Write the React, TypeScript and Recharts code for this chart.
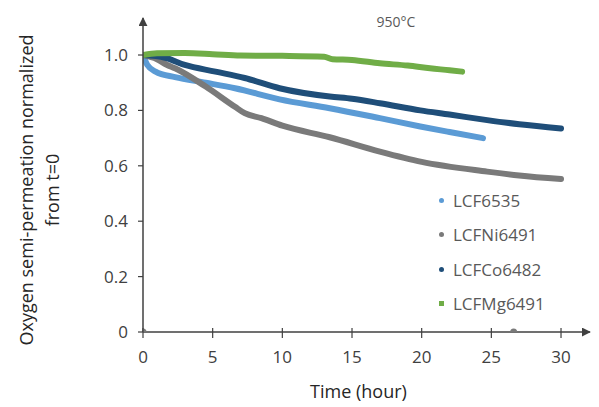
import React from 'react';
import { ComposedChart, Line, Scatter, XAxis, YAxis, Legend, Label } from 'recharts';

// ---- data ----
const seriesNames = ['LCF6535', 'LCFNi6491', 'LCFCo6482', 'LCFMg6491'];

const lcf6535Time = [0, 0.3, 0.9, 2.3, 4.5, 6.6, 9.8, 13.4, 17.0, 19.9, 22.0, 24.4];
const lcf6535Value = [1.0, 0.965, 0.94, 0.92, 0.9, 0.88, 0.84, 0.808, 0.772, 0.742, 0.722, 0.7];

const lcfNiTime = [0, 1.0, 1.7, 2.3, 4.5, 6.6, 7.3, 8.5, 10.0, 13.4, 17.0, 20.0, 24.7, 27.0, 30.0];
const lcfNiValue = [1.0, 0.985, 0.965, 0.952, 0.886, 0.813, 0.79, 0.772, 0.745, 0.703, 0.651, 0.614, 0.579, 0.565, 0.552];

const lcfCoTime = [0, 1.6, 3.0, 5.2, 7.3, 9.8, 13.4, 15.0, 17.0, 19.9, 22.0, 24.7, 27.0, 30.0];
const lcfCoValue = [1.0, 0.99, 0.964, 0.94, 0.917, 0.88, 0.85, 0.842, 0.826, 0.8, 0.785, 0.765, 0.75, 0.735];

const lcfMgTime = [0, 1.0, 3.0, 5.0, 7.0, 10.0, 13.0, 13.6, 15.0, 17.0, 19.0, 20.6, 22.0, 22.9];
const lcfMgValue = [1.0, 1.006, 1.007, 1.003, 0.998, 0.997, 0.994, 0.985, 0.982, 0.97, 0.962, 0.952, 0.945, 0.94];

const strayTime = [0, 26.6];
const strayValue = [0, 0];

const xTicks = [0, 5, 10, 15, 20, 25, 30];
const yTicks = [0, 0.2, 0.4, 0.6, 0.8, 1.0];

const chartTitle = '950°C';
const xTitle = 'Time (hour)';
const yTitleLines = ['Oxygen semi-permeation normalized', 'from t=0'];

// ---- styling ----
const colors = ['#5B9BD5', '#7A7A7A', '#1F4E79', '#70AD47'];
const FONT = "'Open Sans', sans-serif";
const AXIS = '#404040';

const toPoints = (t: number[], v: number[]) => t.map((x, i) => ({ t: x, v: v[i] }));
const seriesData = [
  toPoints(lcf6535Time, lcf6535Value),
  toPoints(lcfNiTime, lcfNiValue),
  toPoints(lcfCoTime, lcfCoValue),
  toPoints(lcfMgTime, lcfMgValue),
];
const strayData = toPoints(strayTime, strayValue);

const XTick = (props: any) => {
  const { x, y, payload } = props;
  const axisY = y - 19;
  return (
    <g>
      <line x1={x} x2={x} y1={axisY - 4} y2={axisY} stroke={AXIS} strokeWidth={1.2} />
      <text x={x} y={y} dy="0.71em" textAnchor="middle" fill={AXIS} fontSize={17} fontFamily={FONT}>
        {payload.value}
      </text>
    </g>
  );
};

const YTitle = () => (
  <g>
    {yTitleLines.map((line, i) => {
      const cx = i === 0 ? 26 : 52;
      return (
        <text
          key={line}
          x={cx}
          y={190}
          transform={`rotate(-90, ${cx}, 190)`}
          textAnchor="middle"
          dominantBaseline="central"
          fontSize={18}
          fontFamily={FONT}
          fill="#262626"
        >
          {line}
        </text>
      );
    })}
    <text x={396} y={27} textAnchor="middle" fontSize={14} fontFamily={FONT} fill="#595959">
      {chartTitle}
    </text>
  </g>
);

const LegendContent = () => (
  <div style={{ position: 'relative', width: 160, height: 140, fontFamily: FONT, fontSize: 17, color: '#595959' }}>
    {seriesNames.map((n, i) => (
      <div
        key={n}
        style={{ position: 'absolute', left: 0, top: i * 34.5, height: 34.5, display: 'flex', alignItems: 'center', whiteSpace: 'nowrap' }}
      >
        <span
          style={{
            display: 'inline-block',
            width: 5,
            height: 5,
            borderRadius: i === 3 ? 0 : '50%',
            background: colors[i],
            marginRight: 9,
          }}
        />
        <span>{n}</span>
      </div>
    ))}
  </div>
);

export default function App() {
  return (
    <div style={{ position: 'absolute', left: 0, top: 0, background: '#fff' }}>
      <svg width={0} height={0} style={{ position: 'absolute' }}>
        <defs>
          <marker
            id="axisArrow"
            viewBox="0 0 10 10"
            refX={9}
            refY={5}
            markerWidth={9}
            markerHeight={9}
            markerUnits="userSpaceOnUse"
            orient="auto-start-reverse"
          >
            <path d="M0,0 L10,5 L0,10 z" fill={AXIS} />
          </marker>
        </defs>
      </svg>
      <ComposedChart width={599} height={407} margin={{ top: 18, right: 9, bottom: 0, left: 0 }}>
        <XAxis
          type="number"
          dataKey="t"
          domain={[0, 32.08]}
          ticks={xTicks}
          allowDataOverflow
          height={75}
          axisLine={{ stroke: AXIS, strokeWidth: 1.5, markerEnd: 'url(#axisArrow)' }}
          tickLine={{ stroke: AXIS, strokeWidth: 1.2 }}
          tickSize={6}
          tickMargin={13}
          tick={<XTick />}
        >
          <Label value={xTitle} position="insideBottom" offset={9} dx={-8} fontSize={18} fontFamily={FONT} fill="#262626" />
        </XAxis>
        <YAxis
          type="number"
          dataKey="v"
          domain={[0, 1.1336]}
          ticks={yTicks}
          allowDataOverflow
          width={143}
          axisLine={{ stroke: AXIS, strokeWidth: 1.5, markerStart: 'url(#axisArrow)' }}
          tickLine={{ stroke: AXIS, strokeWidth: 1.2 }}
          tickSize={5}
          tickMargin={10}
          tickFormatter={(v: number) => (v === 0 ? '0' : v.toFixed(1))}
          tick={{ fill: AXIS, fontSize: 17, fontFamily: FONT }}
        >
          <Label content={<YTitle />} />
        </YAxis>
        <Legend
          layout="horizontal"
          verticalAlign="middle"
          align="center"
          content={<LegendContent />}
          wrapperStyle={{ left: 439, top: 183, width: 160, height: 140, margin: 0 }}
        />
        {seriesData.map((d, i) => (
          <Line
            key={seriesNames[i]}
            name={seriesNames[i]}
            data={d}
            dataKey="v"
            type="monotone"
            stroke={colors[i]}
            strokeWidth={6}
            strokeLinecap="round"
            strokeLinejoin="round"
            dot={false}
            activeDot={false}
            isAnimationActive={false}
          />
        ))}
        <Scatter
          data={strayData}
          dataKey="v"
          fill="#7A7A7A"
          legendType="none"
          shape={(p: any) => <circle cx={p.cx} cy={p.cy} r={3.5} fill="#7A7A7A" />}
          isAnimationActive={false}
        />
      </ComposedChart>
    </div>
  );
}
